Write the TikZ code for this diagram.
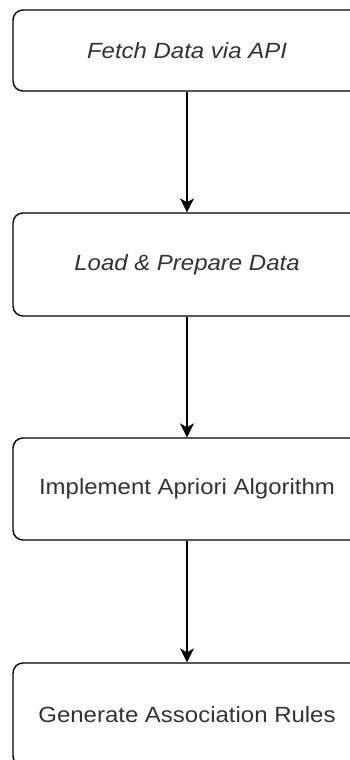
\documentclass[tikz,border=0pt]{standalone}
\usepackage{fontspec}
\setmainfont{Liberation Sans}[FakeStretch=1.09]
\usetikzlibrary{arrows.meta}
\definecolor{txt}{HTML}{333333}
\tikzset{
  stepbox/.style={draw=black, line width=1.4pt, rounded corners=10pt, minimum width=348pt, inner sep=0pt, text=txt, font=\fontsize{22pt}{26pt}\selectfont},
  flow/.style={draw=black, line width=1.4pt, -{Stealth[length=14pt,width=14pt,inset=4pt]}}
}
\begin{document}
\begin{tikzpicture}[x=1pt,y=-1pt]
\useasboundingbox (0,0) rectangle (350,760);
\node[stepbox, minimum height=81pt] (a) at (187,50.5) {\itshape Fetch Data via API};
\node[stepbox, minimum height=103pt] (b) at (187,264.5) {\itshape Load \& Prepare Data};
\node[stepbox, minimum height=102pt] (c) at (187,489) {Implement Apriori Algorithm};
\node[stepbox, minimum height=103pt] (d) at (187,714.5) {Generate Association Rules};
\draw[flow] (a) -- (b);
\draw[flow] (b) -- (c);
\draw[flow] (c) -- (d);
\end{tikzpicture}
\end{document}
